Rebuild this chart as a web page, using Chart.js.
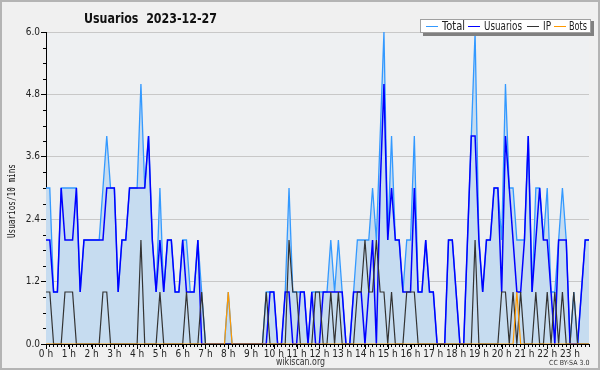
<!DOCTYPE html>
<html>
<head>
<meta charset="utf-8">
<script src="https://cdn.jsdelivr.net/npm/chart.js@4/dist/chart.umd.min.js"></script>
<style>
  body { margin: 0; background: #f0f0f0; }
  canvas { display: block; }
</style>
</head>
<body>
<canvas id="chart" width="600" height="370"></canvas>
<script>
const hourLabels = ['0 h','1 h','2 h','3 h','4 h','5 h','6 h','7 h','8 h','9 h','10 h','11 h',
  '12 h','13 h','14 h','15 h','16 h','17 h','18 h','19 h','20 h','21 h','22 h','23 h'];
const minuteSteps = ['00','10','20','30','40','50'];
const yTicks = [0, 1.2, 2.4, 3.6, 4.8, 6.0];

// one value every 10 minutes, 144 per series
const total = [
  3,3,1,1,3,3,3,3,3,1, 2,2,2,2,2,3,4,3,3,1, 2,2,3,3,3,5,3,4,2,1,
  3,1,2,2,1,1,2,2,1,1, 2,1,0,0,0,0,0,0,1,0, 0,0,0,0,0,0,0,0,1,1,
  1,0,0,1,3,1,1,1,1,0, 1,1,1,1,1,2,1,2,1,0, 0,1,2,2,2,2,3,2,4,6,
  2,4,2,2,1,2,2,4,1,1, 2,1,1,0,0,0,2,2,1,0, 0,2,4,6,2,1,2,2,3,3,
  2,5,3,3,2,2,2,4,1,3, 3,2,3,1,1,2,3,2,0,1, 0,1,2,2
];
const usuarios = [
  2,2,1,1,3,2,2,2,3,1, 2,2,2,2,2,2,3,3,3,1, 2,2,3,3,3,3,3,4,2,1,
  2,1,2,2,1,1,2,1,1,1, 2,0,0,0,0,0,0,0,0,0, 0,0,0,0,0,0,0,0,0,1,
  1,0,0,1,1,0,0,1,1,0, 1,0,0,1,1,1,1,1,1,0, 0,1,1,1,0,1,2,0,3,5,
  2,3,2,2,1,1,1,3,1,1, 2,1,1,0,0,0,2,2,1,0, 0,2,4,4,2,1,2,2,3,3,
  1,4,3,2,1,1,2,4,1,2, 3,2,2,1,0,2,2,2,0,0, 0,1,2,2
];
const ip = [
  1,1,0,0,0,1,1,1,0,0, 0,0,0,0,0,1,1,0,0,0, 0,0,0,0,0,2,0,0,0,0,
  1,0,0,0,0,0,0,1,0,0, 0,1,0,0,0,0,0,0,0,0, 0,0,0,0,0,0,0,0,1,0,
  0,0,0,0,2,1,1,0,0,0, 0,1,1,0,0,1,0,1,0,0, 0,0,1,1,2,1,1,2,1,1,
  0,1,0,0,0,1,1,1,0,0, 0,0,0,0,0,0,0,0,0,0, 0,0,0,2,0,0,0,0,0,0,
  1,1,0,1,0,1,0,0,0,1, 0,0,1,0,1,0,1,0,0,1, 0,0,0,0
];
const bots = [
  0,0,0,0,0,0,0,0,0,0, 0,0,0,0,0,0,0,0,0,0, 0,0,0,0,0,0,0,0,0,0,
  0,0,0,0,0,0,0,0,0,0, 0,0,0,0,0,0,0,0,1,0, 0,0,0,0,0,0,0,0,0,0,
  0,0,0,0,0,0,0,0,0,0, 0,0,0,0,0,0,0,0,0,0, 0,0,0,0,0,0,0,0,0,0,
  0,0,0,0,0,0,0,0,0,0, 0,0,0,0,0,0,0,0,0,0, 0,0,0,0,0,0,0,0,0,0,
  0,0,0,0,1,0,0,0,0,0, 0,0,0,0,0,0,0,0,0,0, 0,0,0,0
];

const categories = [];
hourLabels.forEach((h, i) => minuteSteps.forEach(m => categories.push(i + ':' + m)));

const COL_TOTAL = '#3399ff';
const COL_FILL = '#c6dcf0';
const COL_USERS = '#0000ff';
const COL_IP = '#333333';
const COL_BOTS = '#ff9900';
const FONT = '"DejaVu Sans Condensed", "DejaVu Sans", sans-serif';

// draw text squeezed to a given width (the original uses a narrow font)
function fitText(ctx, text, x, y, width) {
  const w = ctx.measureText(text).width;
  ctx.save();
  ctx.translate(x, y);
  ctx.scale(Math.min(1, width / w), 1);
  ctx.fillText(text, 0, 0);
  ctx.restore();
}

const decor = {
  id: 'decor',
  beforeDraw(chart) {
    const { ctx, chartArea: a } = chart;
    ctx.save();
    ctx.fillStyle = '#f0f0f0';
    ctx.fillRect(0, 0, chart.width, chart.height);
    ctx.fillStyle = '#eef0f2';
    ctx.fillRect(a.left, a.top, a.right - a.left, a.bottom - a.top);
    ctx.restore();
  },
  afterDraw(chart) {
    const { ctx, chartArea: a, scales } = chart;
    ctx.save();
    ctx.strokeStyle = '#000';
    ctx.lineWidth = 1;
    // minor y ticks every 0.3
    ctx.beginPath();
    for (let k = 1; k < 20; k++) {
      if (k % 4 === 0) continue;
      const py = Math.round(scales.y.getPixelForValue(k * 0.3)) + 0.5;
      ctx.moveTo(a.left - 3, py);
      ctx.lineTo(a.left, py);
    }
    // longer hour ticks
    for (let h = 0; h < 24; h++) {
      const px = Math.round(scales.x.getPixelForValue(h * 6)) + 0.5;
      ctx.moveTo(px, a.bottom);
      ctx.lineTo(px, a.bottom + 5);
    }
    ctx.stroke();

    // title
    ctx.fillStyle = '#111';
    ctx.font = 'bold 14px ' + FONT;
    ctx.textBaseline = 'alphabetic';
    ctx.textAlign = 'left';
    fitText(ctx, 'Usuarios  2023-12-27', 84, 23, 133);

    // y axis title
    ctx.save();
    ctx.translate(12, 201);
    ctx.rotate(-Math.PI / 2);
    ctx.font = '11px "DejaVu Sans Mono", monospace';
    ctx.textBaseline = 'middle';
    fitText(ctx, 'Usuarios/10 mins', -37, 0, 74);
    ctx.restore();

    // legend box
    ctx.fillStyle = '#808080';
    ctx.fillRect(423, 21, 171, 15);
    ctx.fillStyle = '#ffffff';
    ctx.fillRect(420, 19, 171, 14);
    ctx.strokeStyle = '#a0a0a0';
    ctx.strokeRect(420.5, 19.5, 170, 13);
    const items = [
      ['Total', COL_TOTAL, 426, 442, 23],
      ['Usuarios', COL_USERS, 468, 484, 38],
      ['IP', COL_IP, 527, 543, 8],
      ['Bots', COL_BOTS, 554, 569, 18]
    ];
    ctx.font = '12px ' + FONT;
    ctx.textBaseline = 'middle';
    items.forEach(([label, col, sx, tx, tw]) => {
      ctx.strokeStyle = col;
      ctx.beginPath();
      ctx.moveTo(sx, 26.5);
      ctx.lineTo(sx + 12, 26.5);
      ctx.stroke();
      ctx.fillStyle = '#222';
      fitText(ctx, label, tx, 26.5, tw);
    });

    // footer
    ctx.fillStyle = '#333';
    ctx.textAlign = 'left';
    ctx.font = '11px ' + FONT;
    fitText(ctx, 'wikiscan.org', 276, 362, 49);
    ctx.font = '7px ' + FONT;
    fitText(ctx, 'CC BY-SA 3.0', 549, 363, 41);

    // outer frame
    ctx.strokeStyle = '#b4b4b4';
    ctx.lineWidth = 2;
    ctx.strokeRect(1, 1, chart.width - 2, chart.height - 2);
    ctx.restore();
  }
};

const lineDefaults = { pointRadius: 0, pointHoverRadius: 0, tension: 0, borderJoinStyle: 'miter' };

new Chart(document.getElementById('chart'), {
  type: 'line',
  data: {
    labels: categories,
    datasets: [
      { label: 'Total', data: total, borderColor: COL_TOTAL, backgroundColor: COL_FILL,
        fill: 'origin', borderWidth: 1.3, order: 4, ...lineDefaults },
      { label: 'Usuarios', data: usuarios, borderColor: COL_USERS, borderWidth: 1.5,
        fill: false, order: 3, ...lineDefaults },
      { label: 'IP', data: ip, borderColor: COL_IP, borderWidth: 1.2,
        fill: false, order: 2, ...lineDefaults },
      { label: 'Bots', data: bots, borderColor: COL_BOTS, borderWidth: 1.2,
        fill: false, order: 1, ...lineDefaults }
    ]
  },
  options: {
    responsive: false,
    devicePixelRatio: 1,
    animation: false,
    layout: { padding: { top: 32, right: 11, bottom: 0, left: 0 } },
    plugins: { legend: { display: false }, tooltip: { enabled: false }, title: { display: false } },
    scales: {
      x: {
        type: 'category',
        offset: false,
        afterFit(scale) { scale.height = 26; },
        border: { color: '#000', width: 1 },
        grid: { drawOnChartArea: false, tickLength: 3, tickColor: '#000' },
        ticks: {
          autoSkip: false, maxRotation: 0, minRotation: 0, padding: 1,
          color: '#222', font: { family: FONT, size: 10 },
          callback: (v, i) => (i % 6 === 0 ? hourLabels[i / 6] : '')
        }
      },
      y: {
        min: 0, max: 6,
        afterFit(scale) { scale.width = 46; },
        afterBuildTicks(scale) { scale.ticks = yTicks.map(v => ({ value: v })); },
        border: { color: '#000', width: 1 },
        grid: {
          color: ctx => (ctx.tick && ctx.tick.value === 0 ? 'rgba(0,0,0,0)' : '#c8c8c8'),
          tickColor: '#000', tickLength: 5
        },
        ticks: {
          padding: 1, color: '#222', font: { family: FONT, size: 10 },
          callback: v => Number(v).toFixed(1)
        }
      }
    }
  },
  plugins: [decor]
});
</script>
</body>
</html>
